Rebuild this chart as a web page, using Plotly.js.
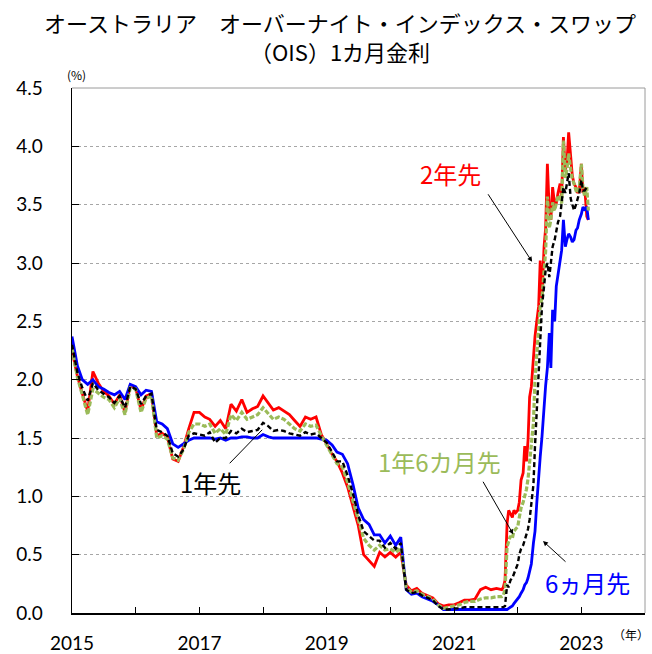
<!DOCTYPE html>
<html>
<head>
<meta charset="utf-8">
<script src="https://cdn.plot.ly/plotly-3.0.1.min.js"></script>
<style>
  html, body { margin: 0; padding: 0; background: #ffffff; }
  #chart { width: 652px; height: 654px; }
</style>
</head>
<body>
<div id="chart"></div>
<script>
// ---- monthly observations 2015-01 .. 2021-09 ----
const monthlyDates = [
  '2015-01-01','2015-02-01','2015-03-01','2015-04-01','2015-05-01','2015-06-01','2015-07-01','2015-08-01','2015-09-01','2015-10-01','2015-11-01','2015-12-01',
  '2016-01-01','2016-02-01','2016-03-01','2016-04-01','2016-05-01','2016-06-01','2016-07-01','2016-08-01','2016-09-01','2016-10-01','2016-11-01','2016-12-01',
  '2017-01-01','2017-02-01','2017-03-01','2017-04-01','2017-05-01','2017-06-01','2017-07-01','2017-08-01','2017-09-01','2017-10-01','2017-11-01','2017-12-01',
  '2018-01-01','2018-02-01','2018-03-01','2018-04-01','2018-05-01','2018-06-01','2018-07-01','2018-08-01','2018-09-01','2018-10-01','2018-11-01','2018-12-01',
  '2019-01-01','2019-02-01','2019-03-01','2019-04-01','2019-05-01','2019-06-01','2019-07-01','2019-08-01','2019-09-01','2019-10-01','2019-11-01','2019-12-01',
  '2020-01-01','2020-02-01','2020-03-01','2020-04-01','2020-05-01','2020-06-01','2020-07-01','2020-08-01','2020-09-01','2020-10-01','2020-11-01','2020-12-01',
  '2021-01-01','2021-02-01','2021-03-01','2021-04-01','2021-05-01','2021-06-01','2021-07-01','2021-08-01','2021-09-01'
];
// ---- denser observations 2021-10 .. 2023-02 ----
const lateDates = [
  '2021-10-01','2021-10-10','2021-10-20','2021-11-01','2021-11-10','2021-11-20','2021-12-01','2021-12-10','2021-12-20',
  '2022-01-01','2022-01-10','2022-01-20','2022-02-01','2022-02-10','2022-02-20','2022-03-01','2022-03-10','2022-03-20',
  '2022-04-01','2022-04-10','2022-04-20','2022-05-01','2022-05-10','2022-05-20','2022-06-01','2022-06-10','2022-06-20',
  '2022-07-01','2022-07-10','2022-07-20','2022-08-01','2022-08-10','2022-08-20','2022-09-01','2022-09-10','2022-09-20',
  '2022-10-01','2022-10-10','2022-10-20','2022-11-01','2022-11-10','2022-11-20','2022-12-01','2022-12-10','2022-12-20',
  '2023-01-01','2023-01-10','2023-01-20','2023-02-01','2023-02-10'
];

// 6ヵ月先 (blue)
const m6Monthly = [
  2.37,2.12,2.00,1.96,2.00,1.94,1.92,1.89,1.87,1.90,1.83,1.96,
  1.94,1.87,1.91,1.90,1.64,1.62,1.58,1.45,1.42,1.45,1.48,1.50,
  1.50,1.50,1.50,1.49,1.50,1.48,1.50,1.50,1.51,1.51,1.50,1.50,
  1.53,1.51,1.50,1.50,1.50,1.50,1.50,1.50,1.50,1.50,1.50,1.49,
  1.48,1.44,1.38,1.36,1.28,1.10,0.90,0.80,0.76,0.67,0.67,0.60,
  0.66,0.58,0.65,0.20,0.16,0.17,0.14,0.12,0.10,0.07,0.03,0.03,
  0.03,0.03,0.03,0.03,0.03,0.03,0.03,0.03,0.03
];
const m6Late = [
  0.03,0.03,0.03,0.03,0.04,0.05,0.06,0.08,0.10,
  0.12,0.14,0.17,0.20,0.24,0.26,0.30,0.36,0.42,
  0.60,0.70,0.94,1.20,1.34,1.51,1.80,1.95,2.10,
  2.40,2.10,2.60,2.50,2.80,2.90,3.02,3.11,3.37,
  3.14,3.20,3.25,3.22,3.18,3.20,3.28,3.30,3.37,
  3.42,3.48,3.46,3.48,3.37
];

// 1年先 (black dashed)
const y1Monthly = [
  2.30,2.06,1.93,1.82,1.97,1.91,1.88,1.85,1.80,1.86,1.76,1.94,
  1.92,1.79,1.86,1.88,1.57,1.55,1.52,1.37,1.34,1.40,1.52,1.54,
  1.53,1.52,1.55,1.46,1.50,1.50,1.56,1.54,1.58,1.55,1.56,1.57,
  1.63,1.60,1.56,1.57,1.56,1.54,1.53,1.52,1.55,1.53,1.54,1.50,
  1.46,1.38,1.30,1.30,1.18,1.02,0.84,0.70,0.66,0.62,0.62,0.56,
  0.60,0.55,0.60,0.20,0.17,0.18,0.15,0.13,0.11,0.06,0.03,0.03,
  0.04,0.04,0.05,0.05,0.05,0.05,0.05,0.05,0.05
];
const y1Late = [
  0.05,0.05,0.06,0.24,0.22,0.28,0.30,0.34,0.38,
  0.42,0.50,0.55,0.58,0.62,0.68,0.72,0.80,0.95,
  1.10,1.43,1.75,2.00,2.25,2.63,2.80,2.94,3.00,
  2.88,3.00,3.14,3.20,3.28,3.35,3.40,3.50,3.65,
  3.60,3.70,3.77,3.55,3.50,3.45,3.50,3.55,3.60,
  3.71,3.62,3.62,3.65,3.65
];

// 1年6カ月先 (green dashed)
const y15Monthly = [
  2.27,2.02,1.87,1.70,1.92,1.88,1.85,1.83,1.76,1.84,1.70,1.93,
  1.92,1.72,1.84,1.86,1.50,1.52,1.49,1.33,1.31,1.40,1.55,1.62,
  1.62,1.60,1.62,1.54,1.58,1.53,1.70,1.65,1.72,1.66,1.68,1.70,
  1.76,1.71,1.66,1.68,1.66,1.62,1.58,1.56,1.62,1.60,1.61,1.52,
  1.44,1.36,1.28,1.25,1.12,0.96,0.80,0.64,0.58,0.54,0.58,0.54,
  0.55,0.52,0.56,0.22,0.18,0.19,0.16,0.14,0.12,0.07,0.04,0.05,
  0.06,0.07,0.09,0.10,0.10,0.12,0.13,0.13,0.14
];
const y15Late = [
  0.14,0.15,0.20,0.57,0.62,0.66,0.64,0.70,0.72,
  0.74,0.82,0.90,0.95,1.00,1.06,1.15,1.29,1.50,
  1.63,2.00,2.20,2.40,2.63,2.70,2.91,3.10,3.57,
  3.30,3.37,3.52,3.45,3.50,3.58,3.55,3.51,4.05,
  3.73,3.80,3.94,3.80,3.72,3.68,3.62,3.60,3.65,
  3.85,3.65,3.57,3.65,3.45
];

// 2年先 (red)
const y2Monthly = [
  2.25,2.03,1.88,1.73,2.07,1.97,1.90,1.86,1.79,1.87,1.72,1.95,
  1.93,1.74,1.86,1.88,1.52,1.54,1.51,1.32,1.30,1.42,1.58,1.72,
  1.72,1.68,1.66,1.60,1.65,1.58,1.79,1.73,1.83,1.72,1.75,1.77,
  1.86,1.80,1.74,1.76,1.73,1.70,1.65,1.60,1.68,1.66,1.68,1.53,
  1.45,1.36,1.30,1.20,1.08,0.92,0.75,0.50,0.45,0.40,0.52,0.48,
  0.52,0.48,0.52,0.24,0.19,0.21,0.17,0.15,0.13,0.08,0.06,0.07,
  0.07,0.09,0.11,0.11,0.12,0.20,0.22,0.20,0.21
];
const y2Late = [
  0.20,0.22,0.28,0.77,0.88,0.85,0.82,0.88,0.86,
  0.88,0.95,1.14,1.20,1.43,1.30,1.48,1.85,1.94,
  2.20,2.37,2.50,2.63,3.02,2.70,3.14,3.30,3.85,
  3.45,3.37,3.65,3.50,3.51,3.60,3.68,3.57,4.08,
  3.80,3.85,4.12,3.88,3.75,3.68,3.65,3.60,3.62,
  3.85,3.60,3.65,3.40,3.37
];

const seriesNames = ['6ヵ月先', '1年先', '1年6カ月先', '2年先'];
const titleLines = ['オーストラリア　オーバーナイト・インデックス・スワップ', '（OIS）1カ月金利'];
const xTickVals = ['2015-01-01','2016-01-01','2017-01-01','2018-01-01','2019-01-01','2020-01-01','2021-01-01','2022-01-01','2023-01-01','2024-01-01'];
const xTickText = ['2015','','2017','','2019','','2021','','2023',''];
const yTickVals = [0,0.5,1,1.5,2,2.5,3,3.5,4,4.5];
const yTickText = ['0.0','0.5','1.0','1.5','2.0','2.5','3.0','3.5','4.0','4.5'];

const dates = monthlyDates.concat(lateDates);
const m6 = m6Monthly.concat(m6Late);
const y1 = y1Monthly.concat(y1Late);
const y15 = y15Monthly.concat(y15Late);
const y2 = y2Monthly.concat(y2Late);

const RED = '#FF0000', BLUE = '#0000FF', GREEN = '#9BBB59', BLACK = '#000000';
const JP = '"Noto Sans CJK JP", "Noto Sans", sans-serif';
const NUM = 'Lato, "Liberation Sans", sans-serif';

const traces = [
  { x: dates, y: y2, name: seriesNames[3], type: 'scatter', mode: 'lines',
    line: { color: RED, width: 2.8 } },
  { x: dates, y: m6, name: seriesNames[0], type: 'scatter', mode: 'lines',
    line: { color: BLUE, width: 2.8 } },
  { x: dates, y: y15, name: seriesNames[2], type: 'scatter', mode: 'lines',
    line: { color: GREEN, width: 3.2, dash: '5px,2px' } },
  { x: dates, y: y1, name: seriesNames[1], type: 'scatter', mode: 'lines',
    line: { color: BLACK, width: 2.4, dash: '5px,3px' } }
];

function label(x, y, text, size, color) {
  return { xref: 'paper', yref: 'paper', x: x, y: y, text: text, showarrow: false,
    xanchor: 'center', yanchor: 'middle', font: { family: JP, size: size, color: color } };
}
function arrow(x, y, ax, ay, head) {
  return { xref: 'paper', yref: 'paper', x: x, y: y, ax: ax, ay: ay, text: '',
    showarrow: true, arrowhead: head, arrowsize: 1, arrowwidth: 1, arrowcolor: '#000', standoff: 0 };
}

const layout = {
  width: 652, height: 654,
  margin: { l: 72, r: 7, t: 88, b: 41 },
  paper_bgcolor: '#ffffff', plot_bgcolor: '#ffffff',
  showlegend: false,
  xaxis: {
    type: 'date', range: ['2015-01-01', '2024-01-01'],
    tickmode: 'array', tickvals: xTickVals, ticktext: xTickText,
    ticks: 'inside', ticklen: 6, tickwidth: 1, tickcolor: '#000000',
    showline: true, linecolor: '#000000', linewidth: 1.5,
    showgrid: false, zeroline: false,
    tickfont: { family: NUM, size: 19, color: '#000000' },
    ticklabelstandoff: 13
  },
  yaxis: {
    range: [0, 4.5],
    tickmode: 'array', tickvals: yTickVals, ticktext: yTickText,
    ticks: 'inside', ticklen: 7, tickwidth: 1, tickcolor: '#000000',
    showline: true, linecolor: '#000000', linewidth: 1.5,
    showgrid: true, gridcolor: '#A6A6A6', griddash: 'dot', gridwidth: 1,
    zeroline: false,
    tickfont: { family: NUM, size: 19, color: '#000000' },
    ticklabelstandoff: 24
  },
  shapes: [
    { type: 'line', xref: 'paper', yref: 'paper', x0: 0, x1: 1, y0: 1, y1: 1,
      line: { color: '#9A9A9A', width: 1 } },
    { type: 'line', xref: 'paper', yref: 'paper', x0: 1, x1: 1, y0: 0, y1: 1,
      line: { color: '#9A9A9A', width: 1 } }
  ],
  annotations: [
    label(0.468, 1.126, titleLines[0], 22, '#000'),
    label(0.468, 1.071, titleLines[1], 22, '#000'),
    label(0.008, 1.025, '(%)', 12, '#000'),
    label(0.975, -0.04, '（年）', 12, '#000'),
    label(0.660, 0.838, seriesNames[3], 24, RED),
    label(0.241, 0.248, seriesNames[1], 24, BLACK),
    label(0.641, 0.288, seriesNames[2], 24, GREEN),
    label(0.899, 0.059, seriesNames[0], 24, BLUE),
    arrow(0.803, 0.669, -45, -69, 2),
    arrow(0.332, 0.349, -34, 35, 0),
    arrow(0.770, 0.150, -31, -54, 2),
    arrow(0.822, 0.137, 24, 22, 2)
  ]
};

Plotly.newPlot('chart', traces, layout, { staticPlot: true, displayModeBar: false });
</script>
</body>
</html>
